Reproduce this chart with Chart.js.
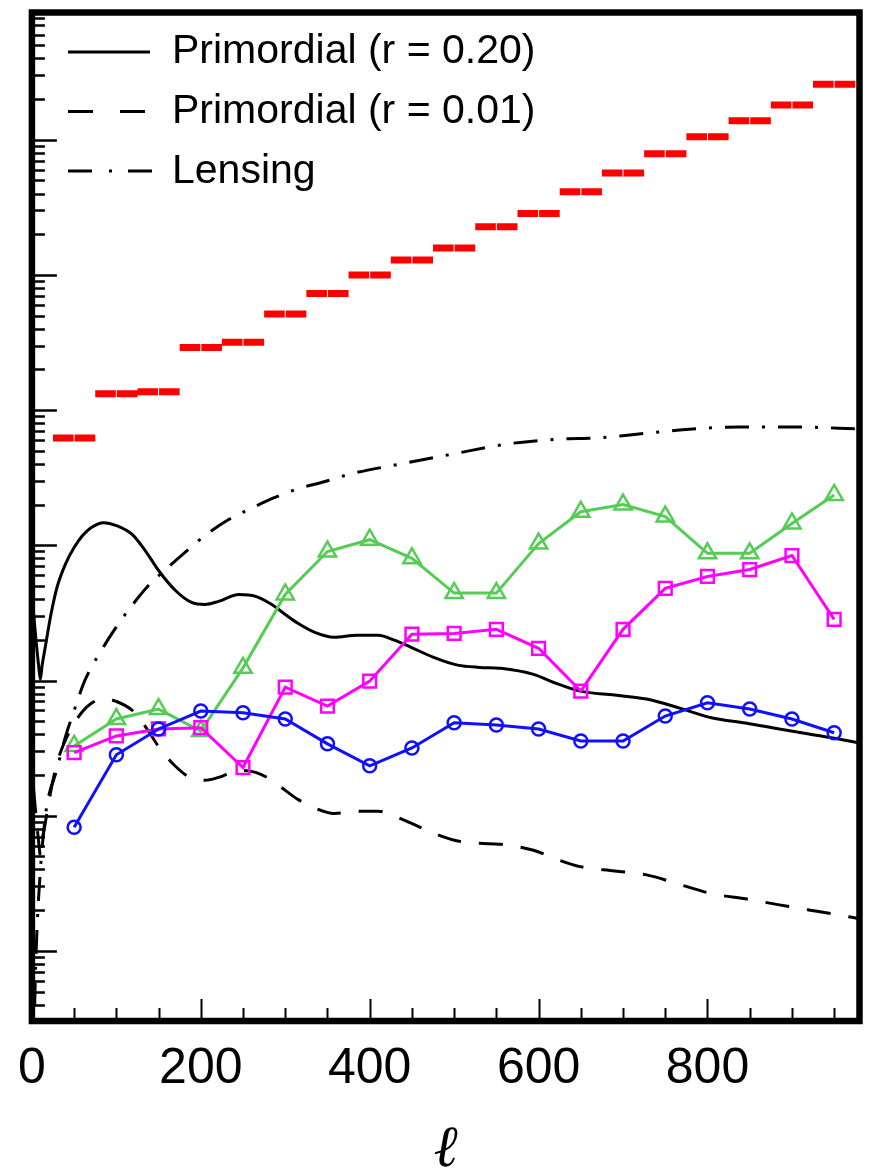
<!DOCTYPE html>
<html><head><meta charset="utf-8">
<script src="https://cdn.jsdelivr.net/npm/chart.js@4/dist/chart.umd.min.js"></script>
<style>html,body{margin:0;padding:0;background:#fff}#wrap{width:872px;height:1171px}</style>
</head><body><div id="wrap"><canvas id="c" width="872" height="1171"></canvas></div>
<script>
// ---------- data ----------
const binCenters = [50,100,150,200,250,300,350,400,450,500,550,600,650,700,750,800,850,900,950];
const binHalfWidth = 25;
const noiseLevel = [0.0622,0.132,0.137,0.291,0.317,0.513,0.729,1.00,1.29,1.58,2.27,2.85,4.12,5.68,7.88,10.5,13.8,18.1,25.7];
const seriesBlue = [8.20e-5,2.82e-4,4.38e-4,5.94e-4,5.78e-4,5.19e-4,3.40e-4,2.34e-4,3.17e-4,4.87e-4,4.69e-4,4.38e-4,3.57e-4,3.57e-4,5.46e-4,6.84e-4,6.15e-4,5.19e-4,4.11e-4];
const seriesMagenta = [2.93e-4,3.89e-4,4.38e-4,4.48e-4,2.27e-4,8.93e-4,6.47e-4,9.89e-4,2.20e-3,2.23e-3,2.39e-3,1.73e-3,8.35e-4,2.39e-3,4.80e-3,5.88e-3,6.62e-3,8.40e-3,2.83e-3];
const seriesGreen = [3.28e-4,5.19e-4,6.15e-4,4.23e-4,1.24e-3,4.33e-3,8.99e-3,1.10e-2,8.02e-3,4.43e-3,4.43e-3,1.03e-2,1.77e-2,2.00e-2,1.63e-2,8.73e-3,8.73e-3,1.45e-2,2.36e-2];

const theoryEll = [2,5,8,10,12,16,20,24,30,40,50,60,70,85,100,119,135,150,170,189,205,221,245,265,284,300,315,335,358,385,410,430,449,475,504,530,555,594,620,649,690,728,767,806,845,885,920,948,980];
const primordial020 = [3.14e-3,1.95e-3,1.28e-3,1.02e-3,1.28e-3,1.79e-3,2.52e-3,3.42e-3,4.96e-3,7.33e-3,9.62e-3,1.18e-2,1.35e-2,1.47e-2,1.40e-2,1.20e-2,8.99e-3,6.51e-3,4.63e-3,3.78e-3,3.65e-3,3.85e-3,4.33e-3,4.19e-3,3.65e-3,3.08e-3,2.65e-3,2.27e-3,2.09e-3,2.16e-3,2.16e-3,1.98e-3,1.76e-3,1.49e-3,1.30e-3,1.25e-3,1.23e-3,1.11e-3,9.56e-4,8.35e-4,7.80e-4,7.29e-4,6.25e-4,5.28e-4,4.85e-4,4.38e-4,4.02e-4,3.76e-4,3.45e-4];
const primordial001 = [1.57e-4,9.75e-5,6.4e-5,5.1e-5,6.4e-5,8.95e-5,1.26e-4,1.71e-4,2.48e-4,3.66e-4,4.81e-4,5.9e-4,6.75e-4,7.35e-4,7.0e-4,6.0e-4,4.5e-4,3.25e-4,2.32e-4,1.89e-4,1.83e-4,1.92e-4,2.16e-4,2.09e-4,1.83e-4,1.54e-4,1.32e-4,1.14e-4,1.04e-4,1.08e-4,1.08e-4,9.9e-5,8.8e-5,7.45e-5,6.5e-5,6.25e-5,6.15e-5,5.55e-5,4.8e-5,4.2e-5,3.9e-5,3.65e-5,3.1e-5,2.64e-5,2.43e-5,2.19e-5,2.01e-5,1.88e-5,1.73e-5];
const lensingEll = [2,4,6,10,16,20,28,40,48,63,83,98,115,138,157,181,205,233,256,287,315,346,378,437,499,563,626,669,708,767,838,905,980];
const lensing = [1.56e-6,6.1e-6,1.42e-5,3.93e-5,1.0e-4,1.41e-4,2.04e-4,3.89e-4,5.5e-4,1.01e-3,1.70e-3,2.39e-3,3.36e-3,5.05e-3,6.51e-3,8.83e-3,1.18e-2,1.55e-2,1.83e-2,2.25e-2,2.62e-2,2.95e-2,3.38e-2,4.0e-2,4.74e-2,5.62e-2,6.11e-2,6.22e-2,6.55e-2,7.12e-2,7.50e-2,7.50e-2,7.25e-2];

const xTicks = [0,200,400,600,800];
const xMinorStep = 50;
const xRange = [0, 980];
const yRange = [3.03e-6, 87.3];
const legendLabels = ['Primordial (r = 0.20)', 'Primordial (r = 0.01)', 'Lensing'];
const xTitle = 'ℓ';

// ---------- build ----------
const pts = (xs, ys) => xs.map((x, i) => ({x, y: ys[i]}));
const halfGap = 0.6;
const redData = [];
binCenters.forEach((c, i) => {
  const v = noiseLevel[i];
  redData.push(
    {x: c - binHalfWidth, y: v}, {x: c - halfGap, y: v}, {x: c, y: null},
    {x: c + halfGap, y: v}, {x: c + binHalfWidth, y: v}, {x: c + binHalfWidth, y: null});
});

const legendDash = [[], [25, 27], [24, 17, 3, 16]];

const framePlugin = {
  id: 'frame',
  afterDatasetsDraw(chart) {
    const {ctx, chartArea: a, scales: {x, y}} = chart;
    ctx.save();
    ctx.strokeStyle = '#000';
    ctx.lineCap = 'butt';
    // y ticks (inside)
    ctx.lineWidth = 2.5;
    for (let e = -7; e <= 2; e++) {
      for (let k = 1; k <= 9; k++) {
        const v = k * Math.pow(10, e);
        if (v < yRange[0] || v > yRange[1]) continue;
        const py = Math.round(y.getPixelForValue(v)) + 0.5;
        const len = k === 1 ? 25 : 13;
        ctx.beginPath(); ctx.moveTo(a.left, py); ctx.lineTo(a.left + len, py); ctx.stroke();
      }
    }
    // x ticks (inside)
    ctx.lineWidth = 2;
    for (let v = xMinorStep; v < xRange[1]; v += xMinorStep) {
      const px = Math.round(x.getPixelForValue(v)) + 0.5;
      const len = xTicks.includes(v) ? 22 : 13;
      ctx.beginPath(); ctx.moveTo(px, a.bottom); ctx.lineTo(px, a.bottom - len); ctx.stroke();
    }
    // frame
    ctx.lineWidth = 6.5;
    ctx.strokeRect(a.left, a.top, a.right - a.left, a.bottom - a.top);
    // legend
    ctx.lineWidth = 3;
    ctx.fillStyle = '#000';
    ctx.font = '41px "Liberation Sans", Arial, sans-serif';
    ctx.textBaseline = 'alphabetic';
    legendLabels.forEach((lab, i) => {
      const ly = 52 + 59.5 * i;
      ctx.setLineDash(legendDash[i]);
      ctx.beginPath(); ctx.moveTo(68, ly); ctx.lineTo(i === 0 ? 150 : 153, ly); ctx.stroke();
      ctx.setLineDash([]);
      ctx.fillText(lab, 172, 63 + 60 * i);
    });
    ctx.restore();
  }
};

new Chart(document.getElementById('c'), {
  type: 'line',
  data: {
    datasets: [
      {label: 'Blue', data: pts(binCenters, seriesBlue), borderColor: '#1010ff', borderWidth: 3,
       pointStyle: 'circle', pointRadius: 6.5, pointBorderWidth: 2.5, pointBackgroundColor: 'rgba(0,0,0,0)', pointBorderColor: '#1010ff', order: 0},
      {label: 'Magenta', data: pts(binCenters, seriesMagenta), borderColor: '#ff00ff', borderWidth: 3,
       pointStyle: 'rect', pointRadius: 9, pointBorderWidth: 2.5, pointBackgroundColor: 'rgba(0,0,0,0)', pointBorderColor: '#ff00ff', order: 1},
      {label: 'Green', data: pts(binCenters, seriesGreen), borderColor: '#55cc55', borderWidth: 3,
       pointStyle: 'triangle', pointRadius: 10, pointBorderWidth: 2.5, pointBackgroundColor: 'rgba(0,0,0,0)', pointBorderColor: '#55cc55', order: 2},
      {label: 'Noise', data: redData, borderColor: '#ff0000', borderWidth: 7, pointRadius: 0, spanGaps: false, borderCapStyle: 'butt', order: 3},
      {label: legendLabels[0], data: pts(theoryEll, primordial020), borderColor: '#000', borderWidth: 3, pointRadius: 0, cubicInterpolationMode: 'monotone', order: 5},
      {label: legendLabels[1], data: pts(theoryEll, primordial001), borderColor: '#000', borderWidth: 3, borderDash: [24, 18], pointRadius: 0, cubicInterpolationMode: 'monotone', order: 6},
      {label: legendLabels[2], data: pts(lensingEll, lensing), borderColor: '#000', borderWidth: 3, borderDash: [24, 13, 3, 13], pointRadius: 0, cubicInterpolationMode: 'monotone', order: 7}
    ]
  },
  options: {
    responsive: false,
    animation: false,
    events: [],
    layout: {padding: {left: 30, right: 12, top: 9, bottom: 0}},
    plugins: {legend: {display: false}, tooltip: {enabled: false}},
    scales: {
      x: {
        type: 'linear', min: xRange[0], max: xRange[1], position: 'bottom',
        afterFit: s => { s.height = 150; },
        afterBuildTicks: s => { s.ticks = xTicks.map(v => ({value: v})); },
        grid: {display: false, drawTicks: false},
        border: {display: false},
        ticks: {font: {family: '"Liberation Sans", Arial, sans-serif', size: 50}, color: '#000', padding: 18, maxRotation: 0, autoSkip: false},
        title: {display: true, text: xTitle, color: '#000', font: {family: '"Liberation Serif", "DejaVu Serif", serif', size: 58, style: 'italic', lineHeight: 0.7}, padding: {top: 0, bottom: 0}}
      },
      y: {type: 'logarithmic', min: yRange[0], max: yRange[1], display: false}
    }
  },
  plugins: [framePlugin]
});
</script>
</body></html>
